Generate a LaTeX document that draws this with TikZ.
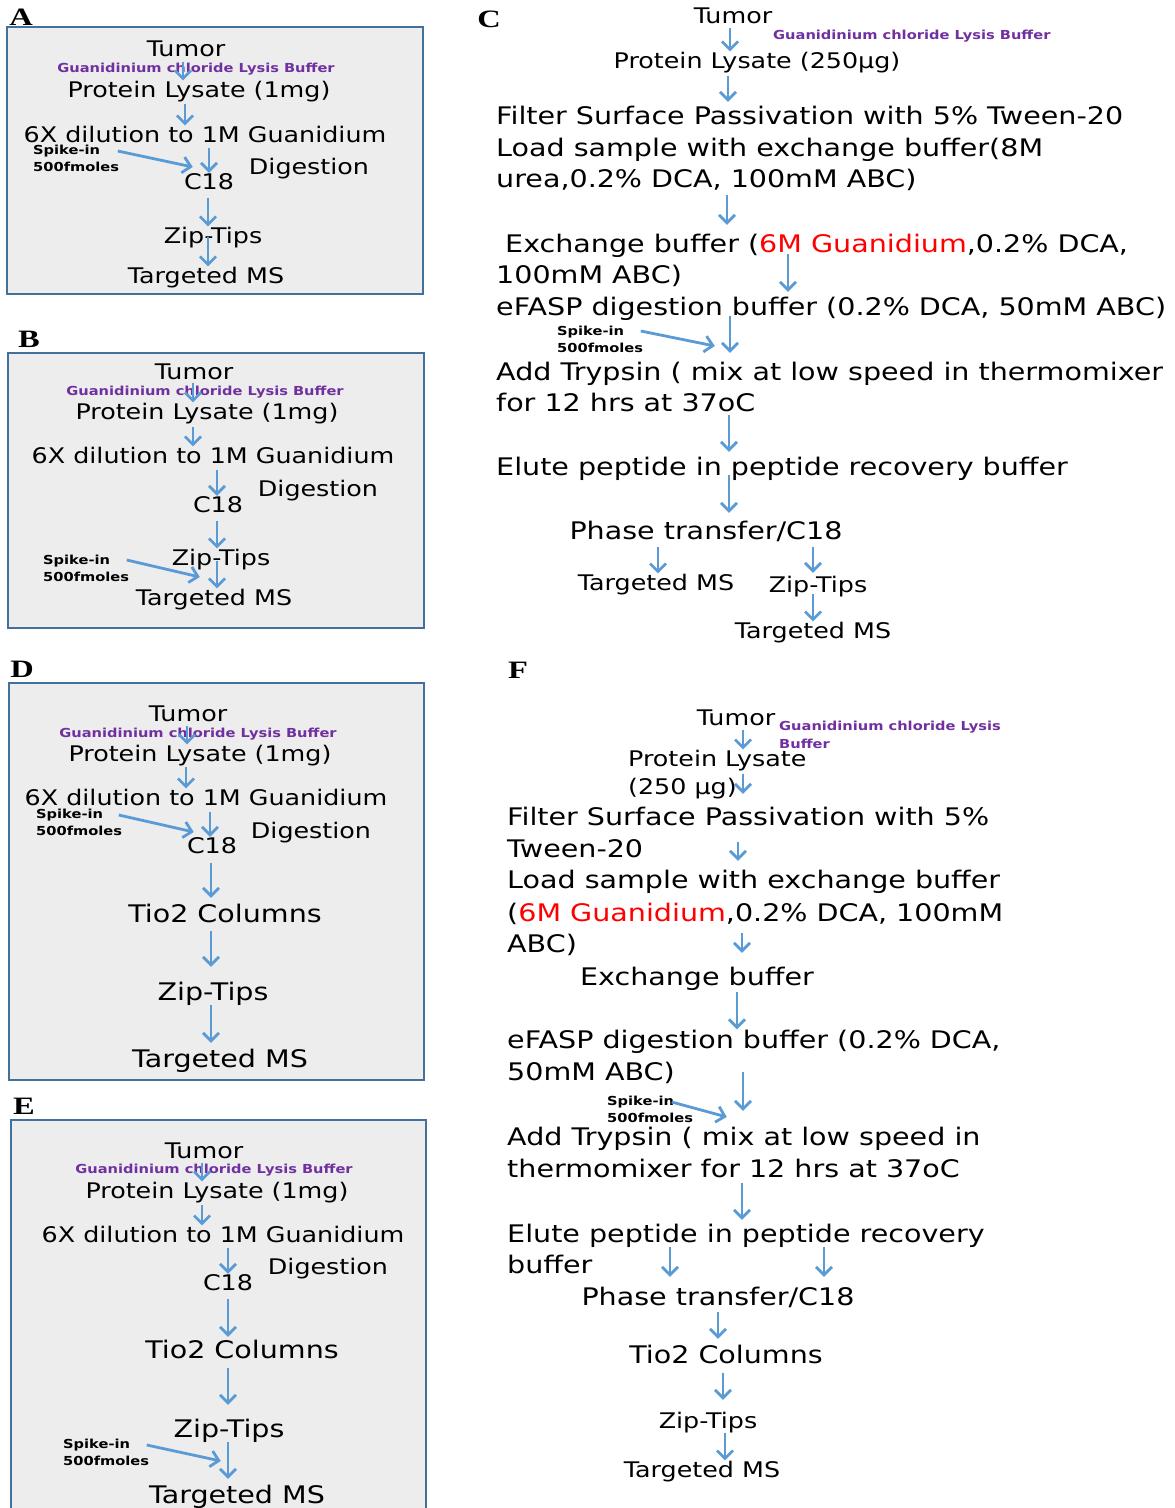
\documentclass[tikz,border=0pt]{standalone}
\usepackage{fontspec}
\newfontfamily\vfont{DejaVu Sans}[FakeStretch=1.18]
\newfontfamily\labfont{Liberation Serif}[FakeStretch=1.3]
\usetikzlibrary{arrows.meta}
\definecolor{flowblue}{RGB}{91,155,213}
\definecolor{panelblue}{RGB}{65,113,156}
\definecolor{panelgray}{RGB}{237,237,237}
\definecolor{lysispurple}{RGB}{112,48,160}
\definecolor{gred}{RGB}{255,0,0}

\begin{document}
\begin{tikzpicture}[x=1pt,y=-1pt,
txt/.style={anchor=base,inner sep=0pt,font=\fontsize{21.5}{25}\vfont},
big/.style={anchor=base,inner sep=0pt,font=\fontsize{24.2}{28}\vfont},
lineL/.style={big,anchor=base west},
lbuf/.style={anchor=base,inner sep=0pt,text=lysispurple,font=\fontsize{12.4}{18}\vfont\bfseries},
spike/.style={anchor=north west,inner sep=0pt,align=left,font=\fontsize{12.4}{17.5}\vfont\bfseries},
tag/.style={anchor=base,inner sep=0pt,font=\fontsize{25}{28}\labfont\bfseries},
panel/.style={draw=panelblue,fill=panelgray,line width=1.6pt},
flow/.style={draw=flowblue,line width=2.8pt,-{Straight Barb[length=8pt,width=16pt]}}]

\path[use as bounding box,fill=white] (0,0) rectangle (1175,1508);

\node[tag] (labA) at (21,25) {A};
\draw[panel] (7,27) rectangle (423,294);
\node[txt] (tumA) at (186,56) {Tumor};
\node[lbuf] (bufA) at (196,72.5) {Guanidinium chloride Lysis Buffer};
\node[txt] (lysA) at (199,97) {Protein Lysate (1mg)};
\node[txt] (dilA) at (205,142) {6X dilution to 1M Guanidium};
\node[spike] (spkA) at (33,144.5) {Spike-in\\500fmoles};
\node[txt] (digA) at (309,174) {Digestion};
\node[txt] (c18A) at (209,189) {C18};
\node[txt] (zipA) at (213,243) {Zip-Tips};
\node[txt] (tgtA) at (206,283) {Targeted MS};
\draw[flow,shorten <=5pt] (tumA.south -| 183,0) -- (lysA.north -| 183,0);
\draw[flow,shorten <=2pt] (lysA.south -| 185,0) -- (dilA.north -| 185,0);
\draw[flow,shorten <=5pt] (dilA.south -| 209,0) -- (c18A.north -| 209,0);
\draw[flow,shorten <=8pt] (c18A.south -| 208,0) -- (zipA.north -| 208,0);
\draw[flow,shorten <=-11pt] (zipA.south -| 208,0) -- (tgtA.north -| 208,0);
\draw[flow] ([shift={(-1.5,6.5)}]spkA.north east) -- ++(75,16);

\node[tag] (labB) at (29,347) {B};
\draw[panel] (8,353) rectangle (424,628);
\node[txt] (tumB) at (194,379) {Tumor};
\node[lbuf] (bufB) at (205,395) {Guanidinium chloride Lysis Buffer};
\node[txt] (lysB) at (207,419) {Protein Lysate (1mg)};
\node[txt] (dilB) at (213,463) {6X dilution to 1M Guanidium};
\node[txt] (digB) at (318,496) {Digestion};
\node[txt] (c18B) at (218,512) {C18};
\node[txt] (zipB) at (221,565) {Zip-Tips};
\node[spike] (spkB) at (43,554.5) {Spike-in\\500fmoles};
\node[txt] (tgtB) at (214,605) {Targeted MS};
\draw[flow,shorten <=3pt] (tumB.south -| 193,0) -- (lysB.north -| 193,0);
\draw[flow,shorten <=3pt] (lysB.south -| 193,0) -- (dilB.north -| 193,0);
\draw[flow,shorten <=6pt] (dilB.south -| 217,0) -- (c18B.north -| 217,0);
\draw[flow,shorten <=8pt] (c18B.south -| 217,0) -- (zipB.north -| 217,0);
\draw[flow,shorten <=-9pt] (zipB.south -| 217,0) -- (tgtB.north -| 217,0);
\draw[flow] ([shift={(-2.5,5.5)}]spkB.north east) -- ++(73,17);

\node[tag] (labD) at (22,677) {D};
\draw[panel] (9,683) rectangle (424,1080);
\node[txt] (tumD) at (188,721) {Tumor};
\node[lbuf] (bufD) at (198,737) {Guanidinium chloride Lysis Buffer};
\node[txt] (lysD) at (200,761) {Protein Lysate (1mg)};
\node[txt] (dilD) at (206,805) {6X dilution to 1M Guanidium};
\node[spike] (spkD) at (36,808.5) {Spike-in\\500fmoles};
\node[txt] (digD) at (311,838) {Digestion};
\node[txt] (c18D) at (212,853) {C18};
\node[big] (tioD) at (225,922) {Tio2 Columns};
\node[big] (zipD) at (213,1000) {Zip-Tips};
\node[big] (tgtD) at (220,1067) {Targeted MS};
\draw[flow,shorten <=4pt] (tumD.south -| 187,0) -- (lysD.north -| 187,0);
\draw[flow,shorten <=1pt] (lysD.south -| 186,0) -- (dilD.north -| 186,0);
\draw[flow,shorten <=6pt] (dilD.south -| 210,0) -- (c18D.north -| 210,0);
\draw[flow,shorten <=9pt,shorten >=5.6pt] (c18D.south -| 211,0) -- (tioD.north -| 211,0);
\draw[flow,shorten <=8pt,shorten >=14.6pt] (tioD.south -| 211,0) -- (zipD.north -| 211,0);
\draw[flow,shorten >=5.6pt] (zipD.south -| 211,0) -- (tgtD.north -| 211,0);
\draw[flow] ([shift={(-3.5,6.5)}]spkD.north east) -- ++(75,17);

\node[tag] (labE) at (24,1114) {E};
\draw[panel] (11,1120) rectangle (426,1520);
\node[txt] (tumE) at (204,1158) {Tumor};
\node[lbuf] (bufE) at (214,1173) {Guanidinium chloride Lysis Buffer};
\node[txt] (lysE) at (217,1198) {Protein Lysate (1mg)};
\node[txt] (dilE) at (223,1242) {6X dilution to 1M Guanidium};
\node[txt] (digE) at (328,1274) {Digestion};
\node[txt] (c18E) at (228,1290) {C18};
\node[big] (tioE) at (242,1358) {Tio2 Columns};
\node[big] (zipE) at (229,1437) {Zip-Tips};
\node[spike] (spkE) at (63,1438.5) {Spike-in\\500fmoles};
\node[big] (tgtE) at (237,1503) {Targeted MS};
\draw[flow,shorten <=4pt] (tumE.south -| 202,0) -- (lysE.north -| 202,0);
\draw[flow,shorten <=2pt] (lysE.south -| 202,0) -- (dilE.north -| 202,0);
\draw[flow,shorten <=5pt] (dilE.south -| 228,0) -- (c18E.north -| 228,0);
\draw[flow,shorten <=8pt,shorten >=2.6pt] (c18E.south -| 228,0) -- (tioE.north -| 228,0);
\draw[flow,shorten <=9pt,shorten >=13.6pt] (tioE.south -| 228,0) -- (zipE.north -| 228,0);
\draw[flow,shorten >=5.6pt] (zipE.south -| 228,0) -- (tgtE.north -| 228,0);
\draw[flow] ([shift={(-2.5,6.5)}]spkE.north east) -- ++(74,16);

\node[tag] (labC) at (489,27) {C};
\node[txt] (tumC) at (733,23) {Tumor};
\node[lbuf,anchor=base west] (bufC) at (773,39) {Guanidinium chloride Lysis Buffer};
\node[txt] (lysC) at (757,68) {Protein Lysate (250μg)};
\node[lineL] (filC) at (496,124) {Filter Surface Passivation with 5\% Tween-20};
\node[lineL] (lodC) at (496,156) {Load sample with exchange buffer(8M};
\node[lineL] (ureC) at (496,187) {urea,0.2\% DCA, 100mM ABC)};
\node[lineL] (excC) at (505,252) {Exchange buffer (\textcolor{gred}{6M Guanidium},0.2\% DCA,};
\node[lineL] (abcC) at (496,283) {100mM ABC)};
\node[lineL] (efaC) at (496,315) {eFASP digestion buffer (0.2\% DCA, 50mM ABC)};
\node[spike] (spkC) at (557,325.5) {Spike-in\\500fmoles};
\node[lineL] (addC) at (496,380) {Add Trypsin ( mix at low speed in thermomixer};
\node[lineL] (forC) at (496,411) {for 12 hrs at 37oC};
\node[lineL] (eluC) at (496,475) {Elute peptide in peptide recovery buffer};
\node[big] (phaC) at (706,539) {Phase transfer/C18};
\node[txt] (tg1C) at (656,590) {Targeted MS};
\node[txt] (zipC) at (818,592) {Zip-Tips};
\node[txt] (tg2C) at (813,638) {Targeted MS};
\draw[flow,shorten <=4pt] (tumC.south -| 730,0) -- (lysC.north -| 730,0);
\draw[flow,shorten <=3pt,shorten >=3.6pt] (lysC.south -| 728,0) -- (filC.north -| 728,0);
\draw[flow,shorten <=5pt,shorten >=8.6pt] (ureC.south -| 727,0) -- (excC.north -| 727,0);
\draw[flow,shorten <=-3.7pt,shorten >=4.6pt] (excC.south -| 788,0) -- (efaC.north -| 788,0);
\draw[flow,shorten <=-4.7pt,shorten >=8.6pt] (efaC.south -| 730,0) -- (addC.north -| 730,0);
\draw[flow,shorten <=3pt,shorten >=4.6pt] (forC.south -| 729,0) -- (eluC.north -| 729,0);
\draw[flow,shorten <=-5.7pt,shorten >=7.6pt] (eluC.south -| 729,0) -- (phaC.north -| 729,0);
\draw[flow,shorten <=6pt] (phaC.south -| 658,0) -- (tg1C.north -| 658,0);
\draw[flow,shorten <=6pt,shorten >=2.7pt] (phaC.south -| 813,0) -- (zipC.north -| 813,0);
\draw[flow,shorten <=-3pt] (zipC.south -| 813,0) -- (tg2C.north -| 813,0);
\draw[flow] ([shift={(-2.5,5.5)}]spkC.north east) -- ++(74,15);

\node[tag] (labF) at (518,678) {F};
\node[txt] (tumF) at (736,725) {Tumor};
\node[lbuf,anchor=north west,align=left] (bufF) at (779,721) {Guanidinium chloride Lysis\\Buffer};
\node[txt,anchor=base west] (lysF) at (628,766) {Protein Lysate};
\node[txt,anchor=base west] (ugF) at (628,794) {(250 μg)};
\node[lineL] (filF) at (507,825) {Filter Surface Passivation with 5\%};
\node[lineL] (twnF) at (507,857) {Tween-20};
\node[lineL] (lodF) at (507,888) {Load sample with exchange buffer};
\node[lineL] (gnF) at (507,921) {(\textcolor{gred}{6M Guanidium},0.2\% DCA, 100mM};
\node[lineL] (abcF) at (507,952) {ABC)};
\node[big] (excF) at (697,985) {Exchange buffer};
\node[lineL] (efaF) at (507,1048) {eFASP digestion buffer (0.2\% DCA,};
\node[lineL] (mmF) at (507,1080) {50mM ABC)};
\node[spike] (spkF) at (607,1095.5) {Spike-in\\500fmoles};
\node[lineL] (addF) at (507,1145) {Add Trypsin ( mix at low speed in};
\node[lineL] (thmF) at (507,1177) {thermomixer for 12 hrs at 37oC};
\node[lineL] (eluF) at (507,1242) {Elute peptide in peptide recovery};
\node[lineL] (bufFF) at (507,1273) {buffer};
\node[big] (phaF) at (718,1305) {Phase transfer/C18};
\node[big] (tioF) at (726,1363) {Tio2 Columns};
\node[txt] (zipF) at (708,1428) {Zip-Tips};
\node[txt] (tgtF) at (702,1477) {Targeted MS};
\draw[flow,shorten <=4pt] (tumF.south -| 743,0) -- (lysF.north -| 743,0);
\draw[flow,shorten <=3pt,shorten >=12.6pt] (lysF.south -| 743,0) -- (filF.north -| 743,0);
\draw[flow,shorten <=16pt,shorten >=8.6pt] (filF.south -| 738,0) -- (lodF.north -| 738,0);
\draw[flow,shorten <=9pt,shorten >=13.6pt] (gnF.south -| 742,0) -- (excF.north -| 742,0);
\draw[flow,shorten <=2pt] (excF.south -| 737,0) -- (efaF.north -| 737,0);
\draw[flow,shorten <=-11pt,shorten >=15.6pt] (mmF.south -| 743,0) -- (addF.north -| 743,0);
\draw[flow,shorten <=5pt,shorten >=3.6pt] (thmF.south -| 742,0) -- (eluF.north -| 742,0);
\draw[flow,shorten >=9.6pt] (eluF.south -| 670,0) -- (phaF.north -| 670,0);
\draw[flow,shorten >=9.6pt] (eluF.south -| 824,0) -- (phaF.north -| 824,0);
\draw[flow,shorten <=5pt,shorten >=5.6pt] (phaF.south -| 718,0) -- (tioF.north -| 718,0);
\draw[flow,shorten <=9pt,shorten >=11.7pt] (tioF.south -| 723,0) -- (zipF.north -| 723,0);
\draw[flow] (zipF.south -| 725,0) -- (tgtF.north -| 725,0);
\draw[flow] ([shift={(-21.5,6.5)}]spkF.north east) -- ++(55,15);
\end{tikzpicture}
\end{document}
